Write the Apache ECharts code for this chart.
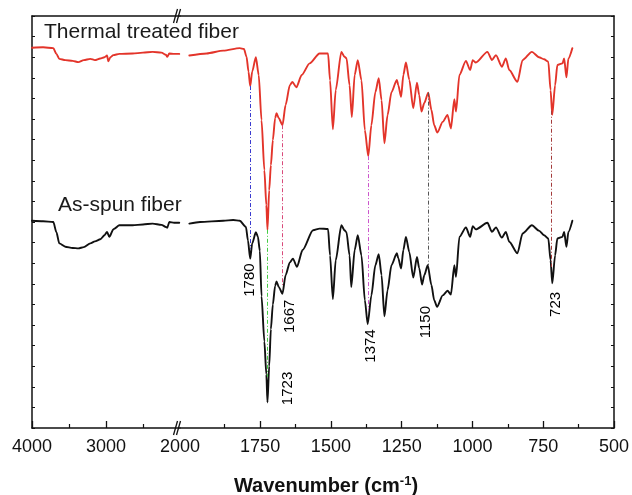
<!DOCTYPE html>
<html><head><meta charset="utf-8">
<script src="https://cdn.jsdelivr.net/npm/echarts@6/dist/echarts.min.js"></script>
<style>html,body{margin:0;padding:0;background:#fff}#c{width:632px;height:495px}</style>
</head><body><div id="c"></div>
<script>
// ---- tick labels ----
const leftTickLabels = [4000, 3000, 2000];
const leftMajorTicks = [4000, 3000];
const leftMinorTicks = [3500, 2500];
const rightTickLabels = [1750, 1500, 1250, 1000, 750, 500];
const rightMinorTicks = [1875, 1625, 1375, 1125, 875, 625];

// ---- spectra: [wavenumber (cm-1), transmittance (a.u., offset)] ----
const redLeft = [[4000,92.3],[3850,92.4],[3712,92.2],[3670,90.8],[3631,89.6],[3550,89.3],[3450,89.1],[3374,88.8],[3300,89.3],[3212,89.6],[3150,89.3],[3077,89.7],[3020,90.0],[2986,90.4],[2969,89.0],[2940,90.0],[2901,90.5],[2820,90.8],[2640,90.9],[2500,91.1],[2370,91.3],[2250,91.1],[2190,90.6],[2172,90.1],[2145,90.9],[2080,90.8],[2010,90.8]];
const blackLeft = [[4000,50.3],[3850,50.2],[3712,50.0],[3670,47.5],[3631,44.8],[3550,44.0],[3450,43.7],[3374,43.6],[3300,43.9],[3212,44.8],[3150,45.3],[3077,45.8],[3020,46.8],[2986,47.6],[2955,46.4],[2901,48.2],[2888,48.4],[2820,49.2],[2640,49.2],[2500,49.4],[2370,49.6],[2250,49.3],[2190,48.8],[2172,48.6],[2145,50.0],[2080,49.8],[2010,49.8]];
const redRight = [[2000,90.4],[1939,90.9],[1880,91.6],[1822,92.2],[1807,92.0],[1798,90.1],[1791,86.5],[1785,83.0],[1778,86.5],[1765,90.0],[1755,85.7],[1745,74.7],[1735,62.6],[1728,54.1],[1724,48.1],[1718,57.7],[1712,63.8],[1705,69.9],[1697,75.2],[1692,76.4],[1684,75.2],[1671,73.5],[1660,78.4],[1645,83.2],[1636,84.0],[1622,82.7],[1603,85.7],[1575,88.5],[1540,90.9],[1510,90.9],[1503,84.4],[1493,72.5],[1483,82.0],[1463,91.3],[1452,90.1],[1445,89.8],[1434,83.2],[1426,75.5],[1416,85.7],[1405,89.3],[1392,84.4],[1380,72.3],[1368,66.0],[1357,73.5],[1343,81.5],[1331,84.9],[1321,79.6],[1311,69.1],[1300,75.9],[1286,81.5],[1267,84.5],[1262,83.2],[1252,80.4],[1244,85.7],[1235,88.7],[1223,84.5],[1209,77.6],[1196,83.8],[1188,80.8],[1180,76.8],[1170,78.9],[1156,81.4],[1145,77.2],[1135,73.5],[1124,71.7],[1105,74.3],[1088,76.0],[1076,72.7],[1064,79.8],[1058,76.8],[1046,85.7],[1023,89.1],[1008,86.9],[999,89.3],[988,88.7],[947,91.3],[931,89.3],[917,90.5],[896,87.7],[882,89.7],[870,86.9],[841,84.0],[823,89.3],[790,91.3],[765,90.0],[747,89.5],[732,88.9],[724,82.0],[718,76.0],[708,83.2],[700,88.1],[682,88.5],[676,89.7],[668,85.1],[661,89.7],[647,92.2]];
const blackRight = [[2000,49.6],[1962,50.0],[1880,50.3],[1845,50.5],[1822,50.3],[1800,48.8],[1793,45.5],[1785,41.1],[1778,44.8],[1765,47.5],[1758,46.5],[1751,43.0],[1745,32.0],[1735,21.0],[1728,13.0],[1724,6.2],[1718,15.0],[1712,24.0],[1705,30.0],[1697,34.5],[1692,35.6],[1684,34.2],[1671,32.6],[1660,37.1],[1645,40.2],[1634,41.1],[1620,39.1],[1600,43.2],[1563,48.0],[1540,48.4],[1510,48.3],[1503,41.9],[1493,31.3],[1483,40.7],[1463,49.2],[1452,48.0],[1445,47.5],[1434,41.9],[1428,34.2],[1416,43.2],[1405,46.8],[1392,41.9],[1380,31.0],[1370,25.2],[1357,32.2],[1343,39.5],[1331,42.2],[1321,37.1],[1311,27.1],[1300,33.4],[1286,39.5],[1267,42.4],[1262,41.2],[1252,38.7],[1244,43.2],[1235,46.4],[1223,42.7],[1209,36.5],[1196,41.5],[1188,38.8],[1178,34.8],[1170,37.1],[1158,39.5],[1145,34.7],[1135,31.0],[1125,29.4],[1105,32.2],[1088,33.3],[1076,32.4],[1064,39.5],[1058,36.7],[1046,46.4],[1023,48.7],[1008,46.4],[999,49.0],[988,48.2],[947,49.8],[931,47.6],[917,48.7],[896,46.2],[882,47.6],[870,45.2],[841,42.4],[823,47.2],[790,49.2],[765,47.9],[747,46.8],[732,46.0],[724,40.7],[718,35.1],[708,41.9],[700,46.0],[682,46.4],[676,47.6],[668,44.0],[661,47.6],[647,50.3]];

// ---- assigned peaks ----
const peakNames   = ['1780', '1723', '1667', '1374', '1150', '723'];
const peakWn      = [1785, 1724, 1671, 1368, 1156, 721];
const peakTopT    = [83.0, 48.1, 73.5, 66.0, 81.4, 77.0];
const peakBottomT = [43.5, 12.4, 34.7, 28.6, 39.5, 39.1];

// styles / annotation anchors (not data)
const peakColors = ['#3b3bd0', '#44cc44', '#d94a7a', '#cc55cc', '#555555', '#a33a3a'];
const labelAnchors = [[1785, 35.9], [1652, 9.6], [1645, 27.1], [1360, 19.9], [1164, 25.7], [706, 30.0]];

const FONT = "'Liberation Sans', Arial, Helvetica, sans-serif";
const INK = '#111';
const axLine = { show: true, onZero: false, lineStyle: { color: INK, width: 1.5 } };

function bottomAxis(grid, min, max, labels, majors) {
  return {
    gridIndex: grid, type: 'value', min: min, max: max, inverse: true, position: 'bottom',
    axisLine: axLine,
    axisTick: { show: true, inside: true, length: 7, customValues: majors, lineStyle: { color: INK, width: 1.3 } },
    axisLabel: { show: true, customValues: labels, formatter: v => String(v), fontSize: 18, color: INK, margin: 10, fontFamily: FONT },
    splitLine: { show: false }
  };
}
function minorAxis(grid, min, max, ticks) {
  return {
    gridIndex: grid, type: 'value', min: min, max: max, inverse: true, position: 'bottom',
    axisLine: { show: false, onZero: false },
    axisTick: { show: true, inside: true, length: 4, customValues: ticks, lineStyle: { color: INK, width: 1.2 } },
    axisLabel: { show: false }, splitLine: { show: false }
  };
}
function topAxis(grid, min, max) {
  return {
    gridIndex: grid, type: 'value', min: min, max: max, inverse: true, position: 'top',
    axisLine: axLine, axisTick: { show: false }, axisLabel: { show: false }, splitLine: { show: false }
  };
}
function yAx(grid, pos) {
  return {
    gridIndex: grid, type: 'value', min: 0, max: 100, interval: 5, position: pos,
    axisLine: axLine,
    axisTick: { show: true, inside: true, length: 3, lineStyle: { color: INK, width: 1 } },
    axisLabel: { show: false }, splitLine: { show: false }
  };
}
function spectrum(xi, yi, data, color) {
  return {
    type: 'line', xAxisIndex: xi, yAxisIndex: yi, data: data, symbol: 'none', showSymbol: false,
    smooth: 0.25, smoothMonotone: 'x', silent: true,
    lineStyle: { color: color, width: 1.9, cap: 'round', join: 'round' }
  };
}

const RMAX = 2033;
const chart = echarts.init(document.getElementById('c'), null, { renderer: 'canvas' });
const redR = spectrum(3, 1, redRight, '#e3342a');
redR.markLine = {
  symbol: ['none', 'none'], silent: true, animation: false, label: { show: false },
  data: peakWn.map((w, i) => [
    { coord: [w, peakTopT[i]], lineStyle: { color: peakColors[i], width: 1, type: [4, 2, 1, 2] } },
    { coord: [w, peakBottomT[i]] }
  ])
};

chart.setOption({
  animation: false,
  backgroundColor: '#fff',
  grid: [
    { left: 32, top: 16, width: 148, bottom: 67 },
    { left: 180, top: 16, right: 17, bottom: 67 }
  ],
  xAxis: [
    bottomAxis(0, 2000, 4000, leftTickLabels, leftMajorTicks),
    topAxis(0, 2000, 4000),
    minorAxis(0, 2000, 4000, leftMinorTicks),
    bottomAxis(1, 500, RMAX, rightTickLabels, rightTickLabels),
    topAxis(1, 500, RMAX),
    minorAxis(1, 500, RMAX, rightMinorTicks)
  ],
  yAxis: [yAx(0, 'left'), yAx(1, 'right')],
  series: [
    spectrum(0, 0, redLeft, '#e3342a'),
    spectrum(0, 0, blackLeft, '#111111'),
    redR,
    spectrum(3, 1, blackRight, '#111111'),
    {
      type: 'scatter', xAxisIndex: 3, yAxisIndex: 1, symbolSize: 0, silent: true, z: 10,
      itemStyle: { opacity: 1 },
      data: labelAnchors.map((p, i) => ({ value: p, name: peakNames[i] })),
      label: { show: true, position: 'inside', rotate: 90, formatter: '{b}', fontSize: 15, color: '#000', opacity: 1, textBorderWidth: 0, fontFamily: FONT }
    }
  ],
  graphic: [
    { type: 'text', left: 44, top: 22, style: { text: 'Thermal treated fiber', fontSize: 21, fill: '#1a1a1a', fontFamily: FONT } },
    { type: 'text', left: 58, top: 195, style: { text: 'As-spun fiber', fontSize: 21, fill: '#1a1a1a', fontFamily: FONT } },
    { type: 'text', x: 326, y: 486, style: {
        text: '{a|Wavenumber (cm}{s|-1}{a|)}', align: 'center', verticalAlign: 'middle', fill: INK,
        rich: { a: { fontSize: 20, fontWeight: 'bold', fontFamily: FONT, fill: INK },
                s: { fontSize: 13, fontWeight: 'bold', fontFamily: FONT, fill: INK, padding: [0, 0, 9, 0] } } } },
    // axis break marks
    { type: 'line', shape: { x1: 173.5, y1: 23, x2: 177.5, y2: 9 }, style: { stroke: INK, lineWidth: 1.3 } },
    { type: 'line', shape: { x1: 176.5, y1: 23, x2: 180.5, y2: 9 }, style: { stroke: INK, lineWidth: 1.3 } },
    { type: 'line', shape: { x1: 173.5, y1: 435, x2: 177.5, y2: 421 }, style: { stroke: INK, lineWidth: 1.3 } },
    { type: 'line', shape: { x1: 176.5, y1: 435, x2: 180.5, y2: 421 }, style: { stroke: INK, lineWidth: 1.3 } }
  ]
});
</script></body></html>
